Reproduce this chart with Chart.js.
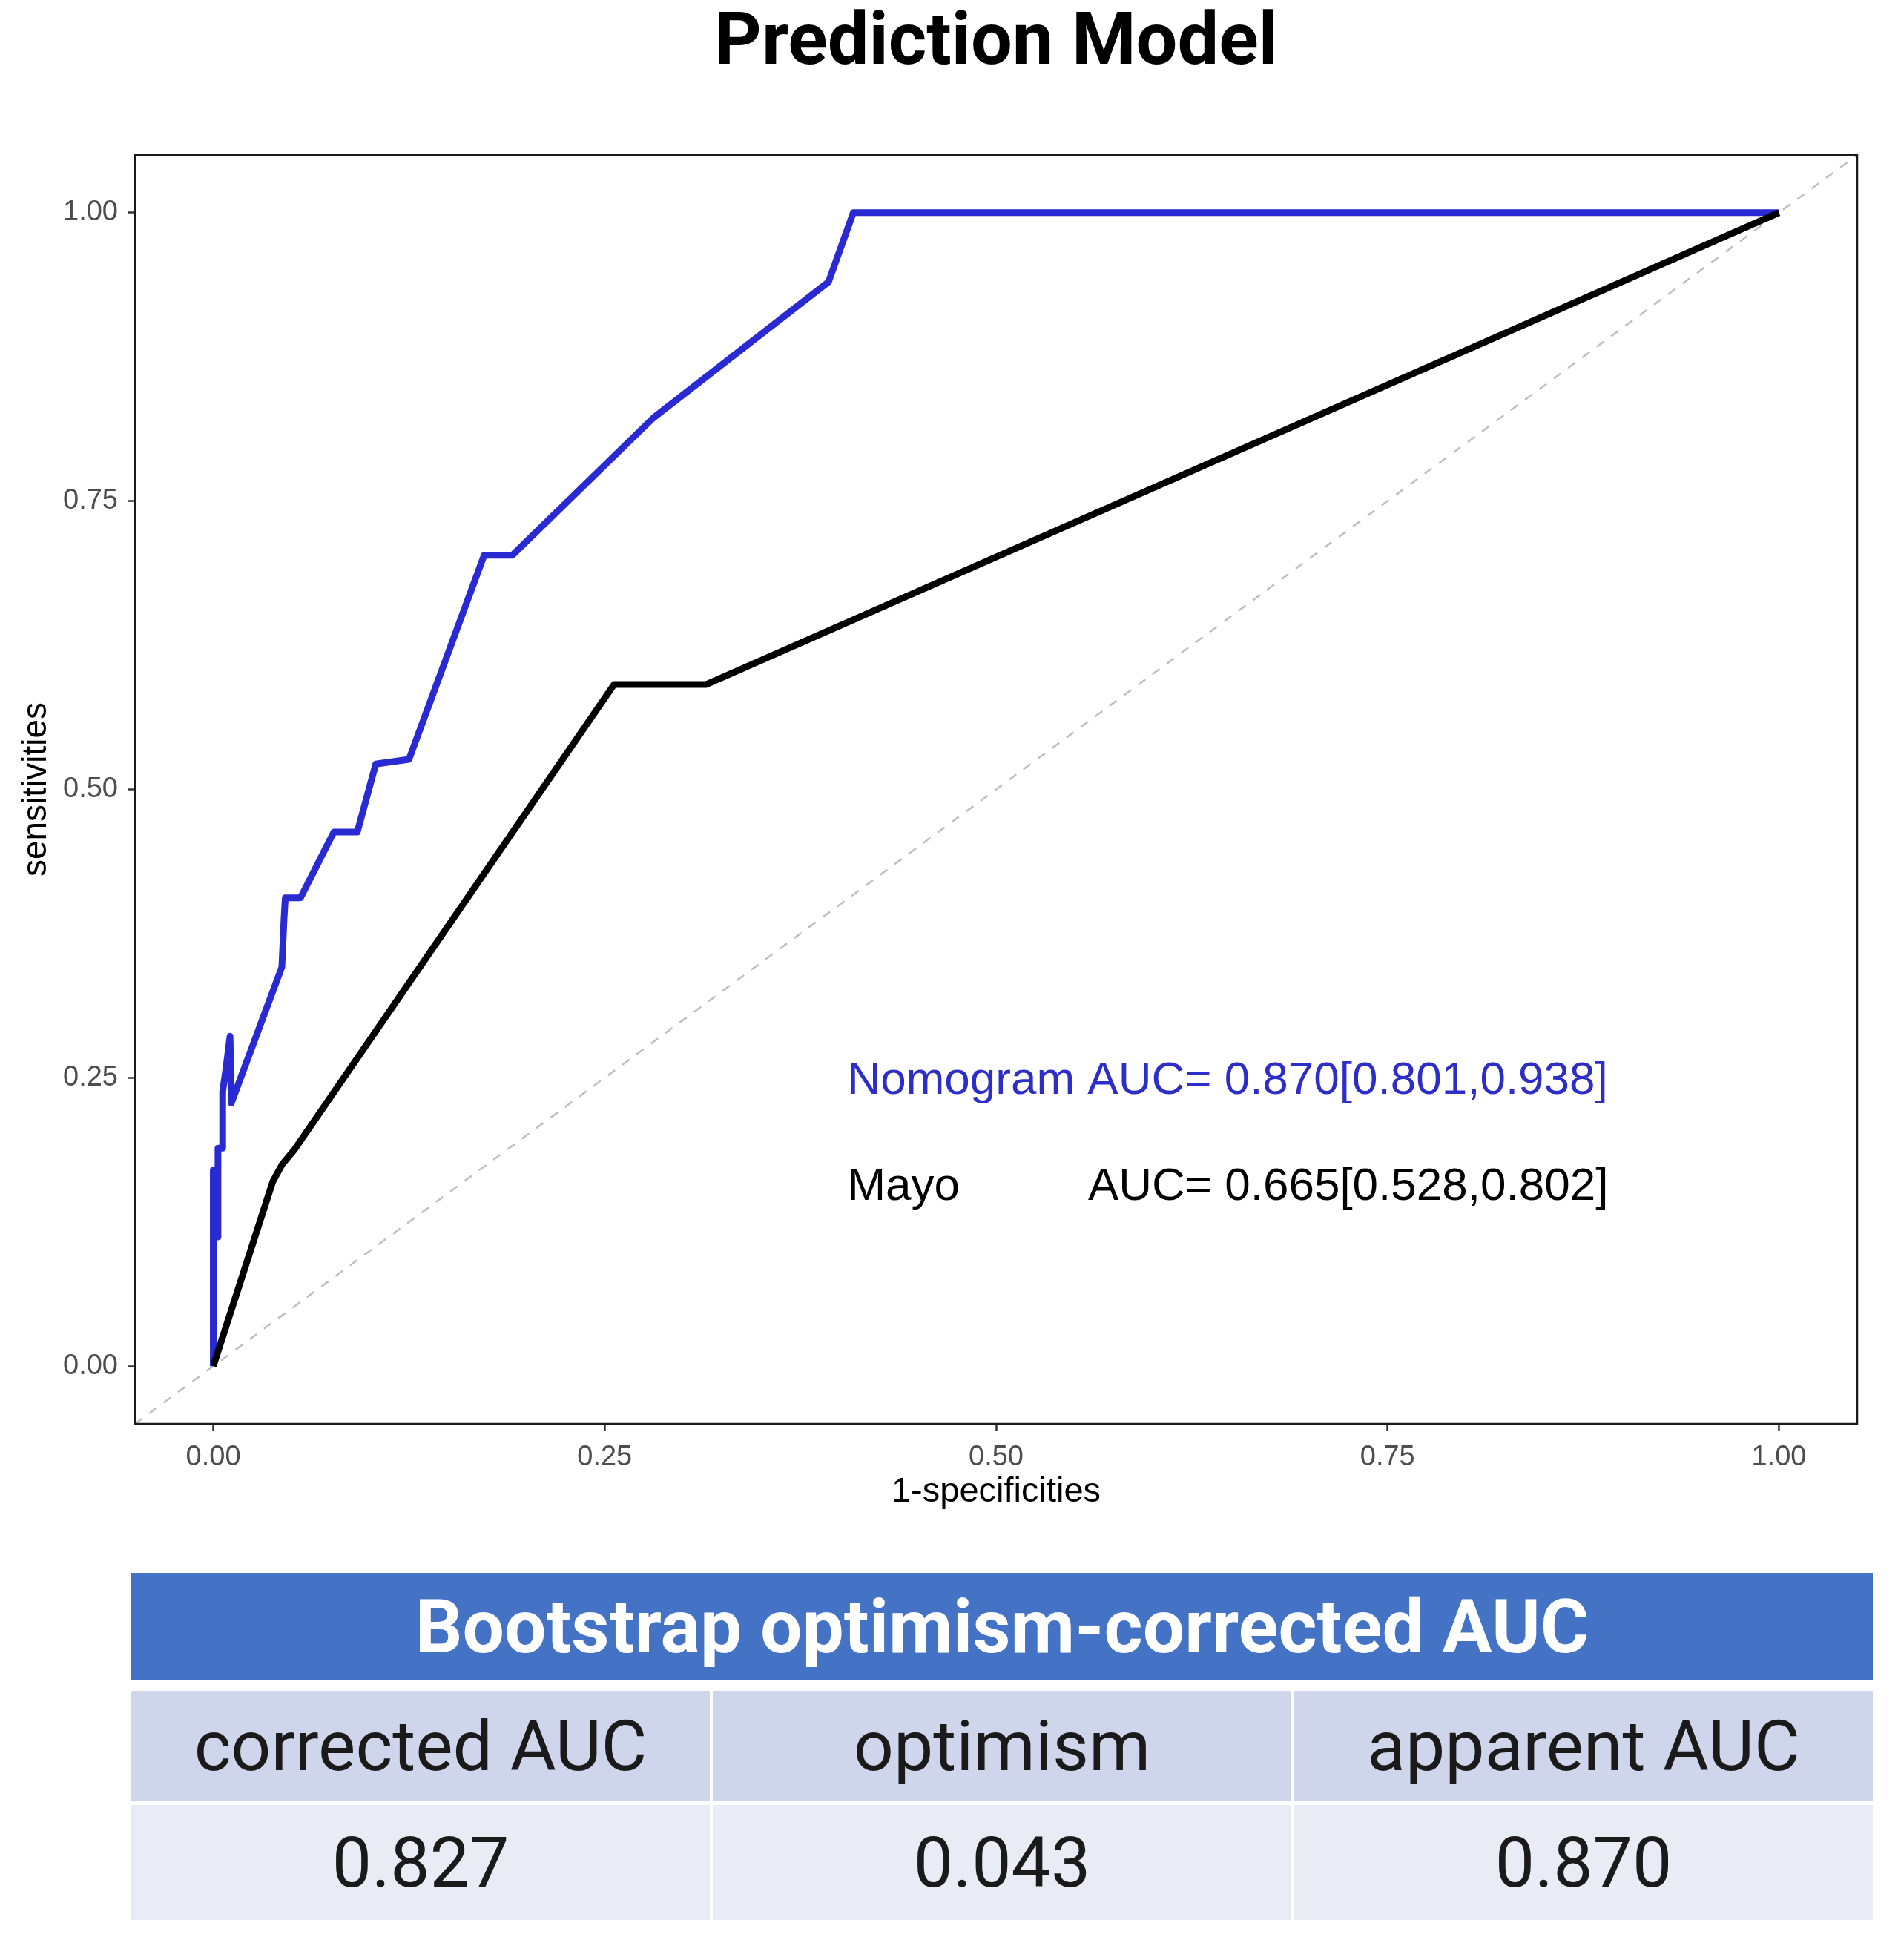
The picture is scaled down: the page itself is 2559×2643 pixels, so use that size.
<!DOCTYPE html>
<html>
<head>
<meta charset="utf-8">
<title>Prediction Model</title>
<script src="https://cdn.jsdelivr.net/npm/chart.js@4.4.1/dist/chart.umd.min.js"></script>
<style>
  html, body { margin: 0; padding: 0; background: #fff; }
  #page { position: relative; width: 2559px; height: 2643px; overflow: hidden; }
  #chartBox { position: absolute; left: 0; top: 0; width: 2559px; height: 2080px; }
  #tbl { position: absolute; left: 177px; top: 2121px; width: 2348px; font-family: Roboto, 'Noto Sans', sans-serif; }
  .hdr { height: 145px; background: #4472c4; color: #fff; font-weight: bold; font-size: 100px;
         display: flex; align-items: center; justify-content: center; }
  .row { display: flex; gap: 4px; }
  .row div { flex: 1; display: flex; align-items: center; justify-content: center; font-size: 95px; color: #1a1a1a; }
  .r1 { margin-top: 14px; height: 148px; }
  .r1 div { background: #cfd5ea; }
  .r2 { margin-top: 6px; height: 155px; }
  .r2 div { background: #e9ebf5; }
</style>
</head>
<body>
<div id="page">
  <div id="chartBox"><canvas id="roc" width="2559" height="2080"></canvas></div>
  <div id="tbl"></div>
</div>
<script>
// ROC curves (1 - specificity, sensitivity)
const nomoSpec = [0, 0, 0.003, 0.003, 0.006, 0.006, 0.008, 0.0107, 0.0115, 0.0438, 0.0452, 0.046, 0.0557, 0.077, 0.092, 0.1038, 0.125, 0.173, 0.191, 0.281, 0.393, 0.4088, 1];
const nomoSens = [0, 0.170, 0.112, 0.189, 0.189, 0.238, 0.257, 0.286, 0.228, 0.346, 0.388, 0.406, 0.406, 0.463, 0.463, 0.522, 0.526, 0.703, 0.703, 0.822, 0.940, 1, 1];
const mayoSpec = [0, 0.038, 0.044, 0.052, 0.256, 0.315, 1];
const mayoSens = [0, 0.160, 0.175, 0.188, 0.591, 0.591, 1];
const refLine = [-0.05, 1.05];

const tickVals = [0, 0.25, 0.5, 0.75, 1];

const notes = ['Nomogram AUC= 0.870[0.801,0.938]', 'Mayo', 'AUC= 0.665[0.528,0.802]'];
const noteX = [0.405, 0.405, 0.5587];
const noteY = [0.247, 0.155, 0.155];
const noteColor = ['#2d2dc8', '#000000', '#000000'];

const tableTitle = 'Bootstrap optimism-corrected AUC';
const tableHeads = ['corrected AUC', 'optimism', 'apparent AUC'];
const tableVals = ['0.827', '0.043', '0.870'];

const toPoints = (xs, ys) => xs.map((x, i) => ({ x, y: ys[i] }));
const sans = "'Liberation Sans', Arial, sans-serif";

// panel border + text labels inside the panel
const panelExtras = {
  id: 'panelExtras',
  afterDatasetsDraw(chart) {
    const { ctx, chartArea: a, scales } = chart;
    ctx.save();
    ctx.font = '62px ' + sans;
    ctx.textBaseline = 'middle';
    ctx.textAlign = 'left';
    notes.forEach((t, i) => {
      ctx.fillStyle = noteColor[i];
      ctx.fillText(t, scales.x.getPixelForValue(noteX[i]), scales.y.getPixelForValue(noteY[i]));
    });
    ctx.strokeStyle = '#1a1a1a';
    ctx.lineWidth = 2.5;
    ctx.strokeRect(a.left, a.top, a.right - a.left, a.bottom - a.top);
    ctx.restore();
  }
};

const axisCommon = {
  type: 'linear',
  min: -0.05,
  max: 1.05,
  afterBuildTicks: s => { s.ticks = tickVals.map(v => ({ value: v })); },
  ticks: {
    callback: v => v.toFixed(2),
    color: '#4d4d4d',
    font: { family: sans, size: 38 },
    padding: 14,
    maxRotation: 0
  },
  grid: { drawOnChartArea: false, drawTicks: true, tickLength: 9, tickColor: '#333333', tickWidth: 2.5 },
  border: { display: false }
};

new Chart(document.getElementById('roc'), {
  type: 'scatter',
  data: {
    datasets: [
      {
        label: 'Mayo',
        data: toPoints(mayoSpec, mayoSens),
        showLine: true,
        borderColor: '#000000',
        borderWidth: 9,
        borderJoinStyle: 'round',
        pointRadius: 0,
        order: 1
      },
      {
        label: 'Nomogram',
        data: toPoints(nomoSpec, nomoSens),
        showLine: true,
        borderColor: '#2a2ad2',
        borderWidth: 9,
        borderJoinStyle: 'round',
        pointRadius: 0,
        order: 2
      },
      {
        label: 'reference',
        data: toPoints(refLine, refLine),
        showLine: true,
        borderColor: '#bebebe',
        borderWidth: 2.5,
        borderDash: [12, 12],
        pointRadius: 0,
        order: 3
      }
    ]
  },
  options: {
    responsive: false,
    animation: false,
    devicePixelRatio: 1,
    layout: { padding: { left: 0, right: 55, top: 0, bottom: 0 } },
    plugins: {
      legend: { display: false },
      tooltip: { enabled: false },
      title: {
        display: true,
        fullSize: false,
        text: 'Prediction Model',
        color: '#000000',
        font: { family: "Roboto, 'Noto Sans', sans-serif", size: 99, weight: 'bold', lineHeight: 1.0 },
        padding: { top: 12, bottom: 98 }
      }
    },
    scales: {
      x: Object.assign({}, axisCommon, {
        position: 'bottom',
        afterFit: s => { s.height = 160; },
        title: { display: true, text: '1-specificities', color: '#000000', font: { family: sans, size: 47 }, padding: { top: 0, bottom: 40 } }
      }),
      y: Object.assign({}, axisCommon, {
        position: 'left',
        afterFit: s => { s.width = 182; },
        title: { display: true, text: 'sensitivities', color: '#000000', font: { family: sans, size: 46 }, padding: { top: 22, bottom: 0 } }
      })
    }
  },
  plugins: [panelExtras]
});

// summary table under the plot
const tbl = document.getElementById('tbl');
tbl.innerHTML =
  `<div class="hdr">${tableTitle}</div>` +
  `<div class="row r1">${tableHeads.map(h => `<div>${h}</div>`).join('')}</div>` +
  `<div class="row r2">${tableVals.map(v => `<div>${v}</div>`).join('')}</div>`;
</script>
</body>
</html>
